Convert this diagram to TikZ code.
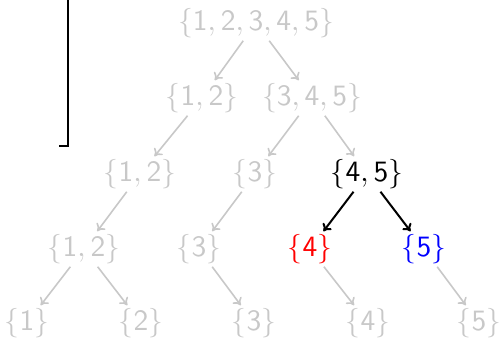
\documentclass[tikz,border=0pt]{standalone}
\usepackage{graphicx}
\usetikzlibrary{arrows.meta}
\newcommand\setof[1]{\scalebox{2.95}{$\{\mathsf{#1}\}$}}
\definecolor{lg}{RGB}{200,200,200}
\tikzset{
  setnode/.style={inner sep=2pt, text=lg},
  garrow/.style={draw=lg, line width=1.6pt, -{To[length=7pt,width=11pt]}, shorten >=1pt, shorten <=1pt},
  barrow/.style={draw=black, line width=2pt, -{To[length=7pt,width=11pt]}, shorten >=1pt, shorten <=1pt}
}
\begin{document}
\begin{tikzpicture}[x=1pt,y=-1pt]
\useasboundingbox (0,0) rectangle (501,339);
\node[setnode] (r) at (256,23) {\setof{1,2,3,4,5}};
\node[setnode] (a) at (202,98) {\setof{1,2}};
\node[setnode] (b) at (312,98) {\setof{3,4,5}};
\node[setnode] (c) at (140,174) {\setof{1,2}};
\node[setnode] (d) at (255,174) {\setof{3}};
\node[setnode, text=black] (e) at (367,174) {\setof{4,5}};
\node[setnode] (f) at (84,249) {\setof{1,2}};
\node[setnode] (g) at (199,249) {\setof{3}};
\node[setnode, text=red] (h) at (310,249) {\setof{4}};
\node[setnode, text=blue] (i) at (424,249) {\setof{5}};
\node[setnode] (j) at (27,323) {\setof{1}};
\node[setnode] (k) at (141,323) {\setof{2}};
\node[setnode] (l) at (254,323) {\setof{3}};
\node[setnode] (m) at (368,323) {\setof{4}};
\node[setnode] (n) at (479,323) {\setof{5}};
\draw[garrow] (r) -- (a);
\draw[garrow] (r) -- (b);
\draw[garrow] (a) -- (c);
\draw[garrow] (b) -- (d);
\draw[garrow] (b) -- (e);
\draw[barrow] (e) -- (h);
\draw[barrow] (e) -- (i);
\draw[garrow] (c) -- (f);
\draw[garrow] (d) -- (g);
\draw[garrow] (f) -- (j);
\draw[garrow] (f) -- (k);
\draw[garrow] (g) -- (l);
\draw[garrow] (h) -- (m);
\draw[garrow] (i) -- (n);
\coordinate (s0) at (68,0);
\coordinate (s1) at (68,146);
\coordinate (s2) at (59,146);
\draw[line width=2pt] (s0) -- (s1) -- (s2);
\end{tikzpicture}
\end{document}
